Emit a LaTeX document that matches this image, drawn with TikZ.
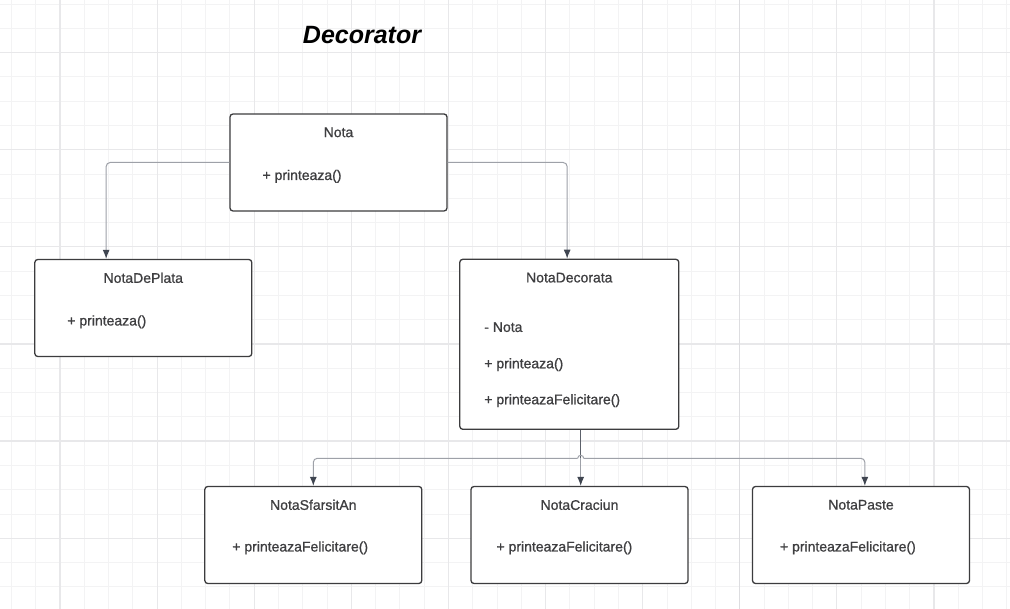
\documentclass[tikz,border=0pt]{standalone}
\usepackage{fontspec}
\setmainfont{Liberation Sans}
\newfontfamily\umlfont{Liberation Sans}[FakeBold=0.9]
\usetikzlibrary{arrows.meta,calc}

\definecolor{gridminor}{HTML}{F3F3F4}
\definecolor{gridmajor}{HTML}{E8E8EA}
\definecolor{gridaxis}{HTML}{DDDDE0}
\definecolor{boxline}{HTML}{3C3C3E}
\definecolor{textc}{HTML}{3E3E40}
\definecolor{connc}{HTML}{9EA1A8}
\definecolor{tipc}{HTML}{3F4550}

\tikzset{minorline/.style={gridminor,line width=1pt},
         majorline/.style={gridmajor,line width=1.2pt},
         umlbox/.style={draw=boxline,line width=1.3pt,rounded corners=3pt,fill=white,inner sep=0pt},
         boxtitle/.style={text=textc,font=\umlfont\fontsize{14}{16}\selectfont,inner sep=0pt},
         member/.style={text=textc,font=\umlfont\fontsize{14}{16}\selectfont,anchor=west,inner sep=0pt},
         conn/.style={connc,line width=1pt,rounded corners=4pt,-{Latex[length=9pt,width=7pt,color=tipc]}}}

\begin{document}
\begin{tikzpicture}[x=1pt,y=-1pt]
                  \useasboundingbox (0,0) rectangle (1010,609);
                  \fill[white] (0,0) rectangle (1010,609);
                  % grid
                  \foreach \i in {0,...,41} \draw[minorline] (11.44+24.28*\i,0) -- ++(0,609);
                  \foreach \j in {0,...,24} \draw[minorline] (0,4.14+24.28*\j) -- ++(1010,0);
                  \foreach \i in {0,...,9} \draw[majorline] (60+97.1*\i,0) -- ++(0,609);
                  \foreach \j in {0,...,5} \draw[majorline] (0,52.7+97.1*\j) -- ++(1010,0);
                  \draw[gridaxis,line width=1.5pt] (739.7,0) -- ++(0,609);

                  \node[font=\fontsize{25}{28}\selectfont\bfseries\itshape,inner sep=0pt] (heading) at (362,35) {Decorator};

                  % classes
                  \node[umlbox,minimum width=217,minimum height=97] (nota) at (338.5,162.5) {};
                  \node[boxtitle] (notaT) at ($(nota.north)+(0,19)$) {Nota};
                  \node[member] (notaM) at ($(nota.north west)+(33,63)$) {+ printeaza()};

                  \node[umlbox,minimum width=217,minimum height=97] (plata) at (143.3,308) {};
                  \node[boxtitle] (plataT) at ($(plata.north)+(0,19)$) {NotaDePlata};
                  \node[member] (plataM) at ($(plata.north west)+(33,63)$) {+ printeaza()};

                  \node[umlbox,minimum width=219,minimum height=170] (decorata) at (569.3,344.3) {};
                  \node[boxtitle] (decorataT) at ($(decorata.north)+(0,19)$) {NotaDecorata};
                  \node[member] (decorataA) at ($(decorata.north west)+(25,68.5)$) {- Nota};
                  \node[member] (decorataM) at ($(decorata.north west)+(25,106)$) {+ printeaza()};
                  \node[member] (decorataF) at ($(decorata.north west)+(25,142)$) {+ printeazaFelicitare()};

                  \node[umlbox,minimum width=217,minimum height=97] (sfarsit) at (313.3,535) {};
                  \node[boxtitle] (sfarsitT) at ($(sfarsit.north)+(0,19)$) {NotaSfarsitAn};
                  \node[member] (sfarsitM) at ($(sfarsit.north west)+(28,62)$) {+ printeazaFelicitare()};

                  \node[umlbox,minimum width=217,minimum height=97] (craciun) at (579.5,535) {};
                  \node[boxtitle] (craciunT) at ($(craciun.north)+(0,19)$) {NotaCraciun};
                  \node[member] (craciunM) at ($(craciun.north west)+(26,62)$) {+ printeazaFelicitare()};

                  \node[umlbox,minimum width=217,minimum height=97] (paste) at (861,535) {};
                  \node[boxtitle] (pasteT) at ($(paste.north)+(0,19)$) {NotaPaste};
                  \node[member] (pasteM) at ($(paste.north west)+(28,62)$) {+ printeazaFelicitare()};

                  % connectors
                  \draw[conn] (nota.west) -| ($(plata.north west)+(72,0)$);
                  \draw[conn] (nota.east) -| ($(decorata.north west)+(108,0)$);
                  \coordinate (split) at (580.7,458.3);
                  \coordinate (hopL) at ($(split)+(-3,0)$);
                  \coordinate (hopR) at ($(split)+(3,0)$);
                  \draw[conn,-,tipc!85] (decorata.south -| split) -- (split);
                  \draw[conn] (split) -- (craciun.north -| split);
                  \draw[conn] (hopL) -| (sfarsit.north);
                  \draw[conn] (hopR) -| ($(paste.north west)+(113,0)$);
                  \draw[connc,line width=1pt] (hopL) arc[start angle=180,end angle=360,radius=3];
              \end{tikzpicture}
\end{document}
